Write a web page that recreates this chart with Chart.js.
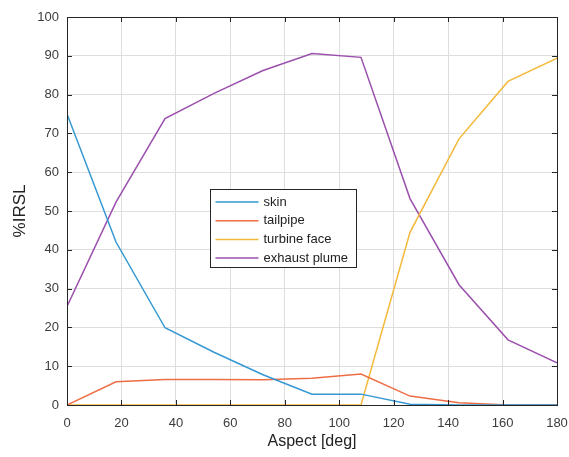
<!DOCTYPE html>
<html>
<head>
<meta charset="utf-8">
<script src="https://cdn.jsdelivr.net/npm/chart.js@4.4.0/dist/chart.umd.min.js"></script>
<style>
  html, body { margin: 0; padding: 0; background: #fff; }
  #wrap { width: 569px; height: 457px; }
</style>
</head>
<body>
<div id="wrap"><canvas id="c" width="569" height="457"></canvas></div>
<script>
// ====== DATA ======
const aspect = [0, 18, 36, 54, 72, 90, 108, 126, 144, 162, 180];
const skin = [75, 42, 19.9, 13.6, 7.8, 2.8, 2.8, 0.2, 0, 0, 0];
const tailpipe = [0, 6, 6.6, 6.6, 6.5, 6.9, 8, 2.3, 0.6, 0, 0];
const turbineFace = [0, 0, 0, 0, 0, 0, 0, 44.5, 68.6, 83.4, 89.4];
const exhaustPlume = [25.4, 52.3, 73.8, 80.3, 86.2, 90.6, 89.6, 53.2, 31, 16.8, 10.9];
const yTicks = [0, 10, 20, 30, 40, 50, 60, 70, 80, 90, 100];
const xTicks = [0, 20, 40, 60, 80, 100, 120, 140, 160, 180];

// ====== STYLE ======
const FONT = "'Liberation Sans', Arial, Helvetica, sans-serif";
const TXT = "#3c3c3c";
const AXIS = "#262626";

const pts = (ys) => aspect.map((x, i) => ({ x, y: ys[i] }));
function series(label, ys, color) {
  return { label, data: pts(ys), borderColor: color, backgroundColor: color,
    borderWidth: 1.5, pointRadius: 0, showLine: true, tension: 0, fill: false };
}

// inward tick marks + top/right box
const boxTicks = {
  id: "boxTicks",
  afterDatasetsDraw(chart) {
    const { ctx, chartArea: a, scales: { x, y } } = chart;
    ctx.save();
    ctx.strokeStyle = AXIS;
    ctx.lineWidth = 1;
    ctx.beginPath();
    xTicks.forEach(v => {
      const px = Math.round(x.getPixelForValue(v)) + 0.5;
      ctx.moveTo(px, a.bottom); ctx.lineTo(px, a.bottom - 5);
      ctx.moveTo(px, a.top); ctx.lineTo(px, a.top + 5);
    });
    yTicks.forEach(v => {
      const py = Math.round(y.getPixelForValue(v)) + 0.5;
      ctx.moveTo(a.left, py); ctx.lineTo(a.left + 5, py);
      ctx.moveTo(a.right, py); ctx.lineTo(a.right - 5, py);
    });
    ctx.stroke();
    ctx.strokeRect(Math.round(a.left) + 0.5, Math.round(a.top) + 0.5,
      Math.round(a.right - a.left), Math.round(a.bottom - a.top));
    ctx.restore();
  }
};

// legend box in the middle of the axes
const boxLegend = {
  id: "boxLegend",
  afterDraw(chart) {
    const { ctx } = chart;
    const bx = 210.5, by = 189.5, bw = 146, bh = 78, row = 18.7;
    ctx.save();
    ctx.fillStyle = "#fff";
    ctx.fillRect(bx, by, bw, bh);
    ctx.strokeStyle = AXIS;
    ctx.lineWidth = 1;
    ctx.strokeRect(bx, by, bw, bh);
    ctx.font = "13px " + FONT;
    ctx.textBaseline = "middle";
    chart.data.datasets.forEach((ds, i) => {
      const cy = by + 12.5 + i * row;
      ctx.strokeStyle = ds.borderColor;
      ctx.lineWidth = 1.5;
      ctx.beginPath();
      ctx.moveTo(bx + 5, cy); ctx.lineTo(bx + 48, cy);
      ctx.stroke();
      ctx.fillStyle = "#222";
      ctx.fillText(ds.label, bx + 53, cy);
    });
    ctx.restore();
  }
};

new Chart(document.getElementById("c"), {
  type: "scatter",
  data: {
    datasets: [
      series("skin", skin, "#3598d2"),
      series("tailpipe", tailpipe, "#ee6d44"),
      series("turbine face", turbineFace, "#f3b93a"),
      series("exhaust plume", exhaustPlume, "#9b50ad")
    ]
  },
  options: {
    responsive: false,
    animation: false,
    layout: { padding: { top: 17, right: 0, left: 0, bottom: 0 } },
    plugins: { legend: { display: false }, tooltip: { enabled: false } },
    scales: {
      x: {
        type: "linear", min: 0, max: 180,
        afterBuildTicks: (s) => { s.ticks = xTicks.map(v => ({ value: v })); },
        afterFit: (s) => { s.height = 52; s.paddingRight = 12; s.paddingLeft = 0; },
        grid: { color: "#dedede", drawTicks: false, lineWidth: 1 },
        border: { display: false },
        ticks: { padding: 11, color: TXT, font: { family: FONT, size: 13 } },
        title: { display: true, text: "Aspect [deg]", color: "#222",
          font: { family: FONT, size: 16 }, padding: { top: 0, bottom: 6 } }
      },
      y: {
        min: 0, max: 100,
        afterBuildTicks: (s) => { s.ticks = yTicks.map(v => ({ value: v })); },
        afterFit: (s) => { s.width = 67; s.paddingTop = 0; s.paddingBottom = 0; },
        grid: { color: "#dedede", drawTicks: false, lineWidth: 1 },
        border: { display: false },
        ticks: { padding: 8, color: TXT, font: { family: FONT, size: 13 } },
        title: { display: true, text: "%IRSL", color: "#222",
          font: { family: FONT, size: 17 }, padding: { top: 10, bottom: 0 } }
      }
    }
  },
  plugins: [boxTicks, boxLegend]
});
</script>
</body>
</html>
